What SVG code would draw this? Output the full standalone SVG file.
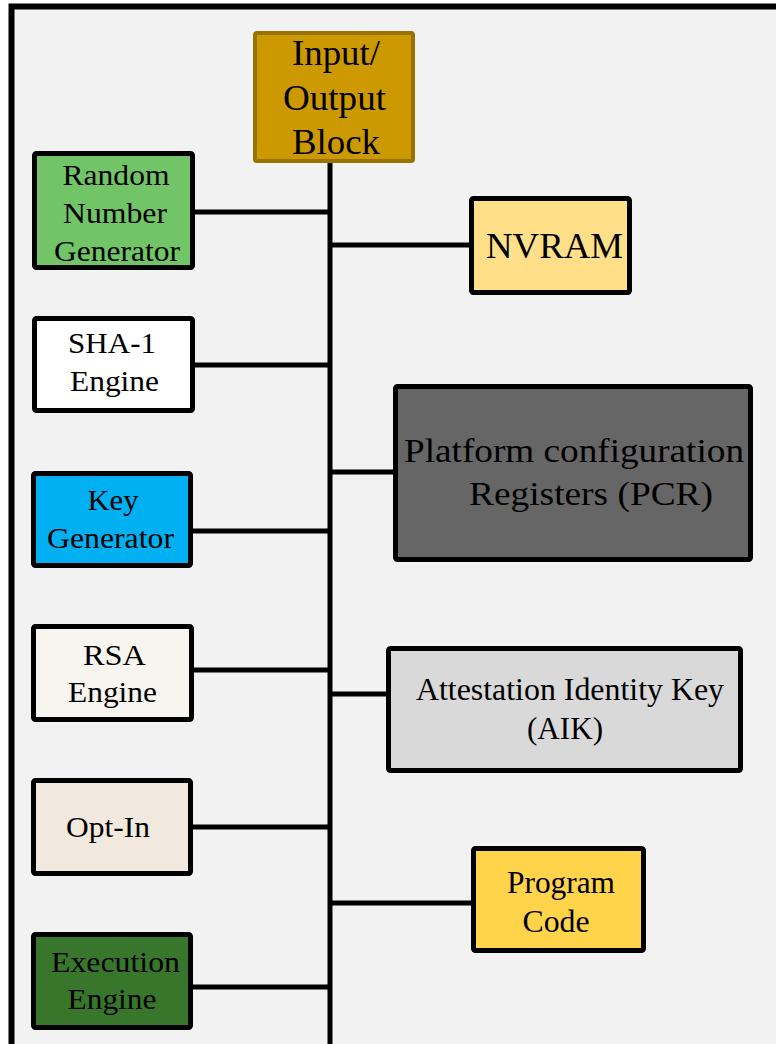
<svg xmlns="http://www.w3.org/2000/svg" width="776" height="1044" viewBox="0 0 776 1044">
  <style>
    .box { stroke: #000; stroke-width: 5; stroke-linejoin: round; }
    .wire { stroke: #000; stroke-width: 5; fill: none; }
    text { font-family: "Liberation Serif", "Times New Roman", serif; fill: #000; text-anchor: middle; }
    .s30 { font-size: 29px; }
    .s32 { font-size: 32px; }
    .s34 { font-size: 33px; }
    .s36 { font-size: 36px; }
  </style>

  <!-- page and frame -->
  <rect x="0" y="0" width="776" height="1044" fill="#ffffff"/>
  <rect x="11.5" y="6.5" width="770" height="1044" fill="#f2f2f2"/>
  <path d="M11.5,1050 V6.5 H780" fill="none" stroke="#000" stroke-width="6"/>

  <!-- bus and branches -->
  <g id="connectors">
    <line class="wire" x1="330" y1="161" x2="330" y2="1050"/>
    <line class="wire" x1="192" y1="212" x2="330" y2="212"/>
    <line class="wire" x1="192" y1="365" x2="330" y2="365"/>
    <line class="wire" x1="190" y1="531" x2="330" y2="531"/>
    <line class="wire" x1="191" y1="670" x2="330" y2="670"/>
    <line class="wire" x1="190" y1="827" x2="330" y2="827"/>
    <line class="wire" x1="190" y1="987" x2="330" y2="987"/>
    <line class="wire" x1="330" y1="245" x2="472" y2="245"/>
    <line class="wire" x1="330" y1="472" x2="396" y2="472"/>
    <line class="wire" x1="330" y1="694" x2="389" y2="694"/>
    <line class="wire" x1="330" y1="903" x2="474" y2="903"/>
  </g>

  <g id="io-block">
    <rect x="255" y="33" width="158" height="128" rx="2" fill="#cc9900" stroke="#9a7200" stroke-width="4"/>
    <text class="s36" x="336" y="65" textLength="88" lengthAdjust="spacingAndGlyphs">Input/</text>
    <text class="s36" x="334.5" y="110" textLength="103" lengthAdjust="spacingAndGlyphs">Output</text>
    <text class="s36" x="336" y="154" textLength="88" lengthAdjust="spacingAndGlyphs">Block</text>
  </g>

  <g id="rng">
    <rect class="box" x="34.5" y="153.5" width="158" height="114" rx="2" fill="#71c566"/>
    <text class="s30" x="116" y="185" textLength="107" lengthAdjust="spacingAndGlyphs">Random</text>
    <text class="s30" x="115" y="223" textLength="104" lengthAdjust="spacingAndGlyphs">Number</text>
    <text class="s30" x="117" y="261" textLength="126" lengthAdjust="spacingAndGlyphs">Generator</text>
  </g>

  <g id="sha1">
    <rect class="box" x="34.5" y="318.5" width="158" height="92" rx="2" fill="#ffffff"/>
    <text class="s30" x="112" y="353" textLength="88" lengthAdjust="spacingAndGlyphs">SHA-1</text>
    <text class="s30" x="114.5" y="391" textLength="89" lengthAdjust="spacingAndGlyphs">Engine</text>
  </g>

  <g id="key-generator">
    <rect class="box" x="33.5" y="473.5" width="157" height="92" rx="2" fill="#00b0f0"/>
    <text class="s30" x="113" y="510" textLength="51" lengthAdjust="spacingAndGlyphs">Key</text>
    <text class="s30" x="110.5" y="548" textLength="127" lengthAdjust="spacingAndGlyphs">Generator</text>
  </g>

  <g id="rsa">
    <rect class="box" x="33.5" y="626.5" width="158" height="93" rx="2" fill="#f8f4ef"/>
    <text class="s30" x="114.5" y="665" textLength="63" lengthAdjust="spacingAndGlyphs">RSA</text>
    <text class="s30" x="112.5" y="702" textLength="89" lengthAdjust="spacingAndGlyphs">Engine</text>
  </g>

  <g id="opt-in">
    <rect class="box" x="33.5" y="780.5" width="157" height="93" rx="2" fill="#f2e9de"/>
    <text class="s30" x="108" y="837" textLength="84" lengthAdjust="spacingAndGlyphs">Opt-In</text>
  </g>

  <g id="execution-engine">
    <rect class="box" x="33.5" y="934.5" width="157" height="93" rx="2" fill="#38762c"/>
    <text class="s30" x="115.5" y="972" textLength="129" lengthAdjust="spacingAndGlyphs">Execution</text>
    <text class="s30" x="112" y="1009" textLength="89" lengthAdjust="spacingAndGlyphs">Engine</text>
  </g>

  <g id="nvram">
    <rect class="box" x="471.5" y="198.5" width="158" height="94" rx="2" fill="#ffdf88"/>
    <text class="s36" x="554.5" y="258" textLength="137" lengthAdjust="spacingAndGlyphs">NVRAM</text>
  </g>

  <g id="pcr">
    <rect class="box" x="395.5" y="386.5" width="355" height="173" rx="2" fill="#666666"/>
    <text class="s34" x="574" y="462" textLength="340" lengthAdjust="spacingAndGlyphs">Platform configuration</text>
    <text class="s34" x="591" y="505" textLength="244" lengthAdjust="spacingAndGlyphs">Registers (PCR)</text>
  </g>

  <g id="aik">
    <rect class="box" x="388.5" y="648.5" width="352" height="122" rx="2" fill="#d9d9d9"/>
    <text class="s32" x="570" y="700" textLength="308" lengthAdjust="spacingAndGlyphs">Attestation Identity Key</text>
    <text class="s32" x="565" y="739" textLength="76" lengthAdjust="spacingAndGlyphs">(AIK)</text>
  </g>

  <g id="program-code">
    <rect class="box" x="473.5" y="848.5" width="170" height="102" rx="2" fill="#ffd34a"/>
    <text class="s32" x="561" y="893" textLength="108" lengthAdjust="spacingAndGlyphs">Program</text>
    <text class="s32" x="556" y="932" textLength="67" lengthAdjust="spacingAndGlyphs">Code</text>
  </g>
</svg>
